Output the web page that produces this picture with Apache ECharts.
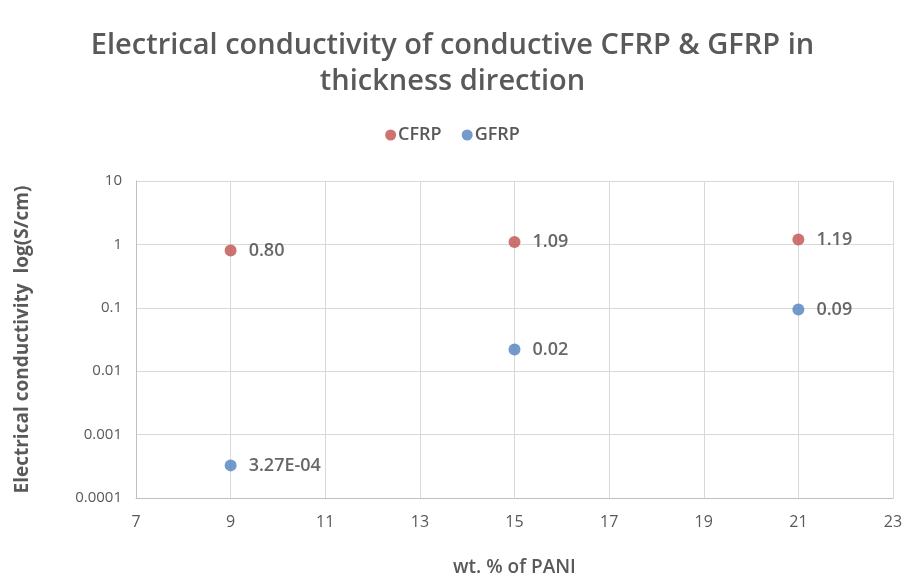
<!DOCTYPE html>
<html>
<head>
<meta charset="utf-8">
<script src="https://cdn.jsdelivr.net/npm/echarts@6/dist/echarts.min.js"></script>
<style>
    html, body { margin: 0; padding: 0; background: #fff; }
    #main { width: 905px; height: 579px; }
</style>
</head>
<body>
<div id="main"></div>
<script>
    var pani = [9, 15, 21];
    var cfrp = [0.80, 1.09, 1.19];
    var gfrp = [3.27e-4, 0.022, 0.094];
    var gfrpLabels = ['3.27E-04', '0.02', '0.09'];

    function pairs(xs, ys) {
        return xs.map(function(x, i) { return [x, ys[i]]; });
    }

    var font = '"Open Sans", "Liberation Sans", sans-serif';
    var myChart = echarts.init(document.getElementById('main'));
    var option = {
        animation: false,
        title: {
            text: 'Electrical conductivity of conductive CFRP & GFRP in\nthickness direction',
            left: 'center',
            top: 23,
            textStyle: {
                fontFamily: font,
                fontSize: 29,
                fontWeight: 600,
                color: '#595959',
                lineHeight: 36
            }
        },
        legend: {
            top: 121,
            left: 'center',
            itemWidth: 11,
            itemHeight: 11,
            itemGap: 20,
            icon: 'circle',
            textStyle: { fontFamily: font, fontSize: 18, fontWeight: 600, color: '#595959', padding: [0, 0, 0, -3] },
            data: ['CFRP', 'GFRP']
        },
        grid: { left: 136, right: 12, top: 181, bottom: 81, outerBoundsMode: 'none' },
        xAxis: {
            type: 'value',
            min: 7,
            max: 23,
            interval: 2,
            name: 'wt. % of PANI',
            nameLocation: 'middle',
            nameGap: 60,
            nameTextStyle: { fontFamily: font, fontSize: 19, fontWeight: 600, color: '#595959' },
            axisLine: { lineStyle: { color: '#bfbfbf' } },
            axisTick: { show: false },
            axisLabel: { fontFamily: font, fontSize: 16, color: '#595959', margin: 16 },
            splitLine: { show: true, lineStyle: { color: '#d9d9d9' } }
        },
        yAxis: {
            type: 'log',
            logBase: 10,
            min: 0.0001,
            max: 10,
            name: 'Electrical conductivity  log(S/cm)',
            nameLocation: 'middle',
            nameGap: 104,
            nameTextStyle: { fontFamily: font, fontSize: 19, fontWeight: 'bold', color: '#595959' },
            axisLine: { show: true, lineStyle: { color: '#bfbfbf' } },
            axisTick: { show: false },
            axisLabel: {
                fontFamily: font,
                fontSize: 15,
                color: '#595959',
                margin: 14,
                formatter: function(v) {
                    var e = Math.round(Math.log10(v));
                    return e >= 0 ? String(Math.pow(10, e)) : (0).toFixed(-e).slice(0, -1) + '1';
                }
            },
            splitLine: { show: true, lineStyle: { color: '#d9d9d9' } }
        },
        series: [{
            name: 'CFRP',
            type: 'scatter',
            symbolSize: 12,
            itemStyle: { color: '#C0504D' },
            label: {
                show: true,
                position: 'right',
                distance: 12,
                fontFamily: font,
                fontSize: 18,
                fontWeight: 600,
                color: '#404040',
                formatter: function(p) { return p.value[1].toFixed(2); }
            },
            data: pairs(pani, cfrp)
        }, {
            name: 'GFRP',
            type: 'scatter',
            symbolSize: 12,
            itemStyle: { color: '#4F81BD' },
            label: {
                show: true,
                position: 'right',
                distance: 12,
                fontFamily: font,
                fontSize: 18,
                fontWeight: 600,
                color: '#404040',
                formatter: function(p) { return gfrpLabels[p.dataIndex]; }
            },
            data: pairs(pani, gfrp)
        }]
    };
    myChart.setOption(option);
</script>
</body>
</html>
